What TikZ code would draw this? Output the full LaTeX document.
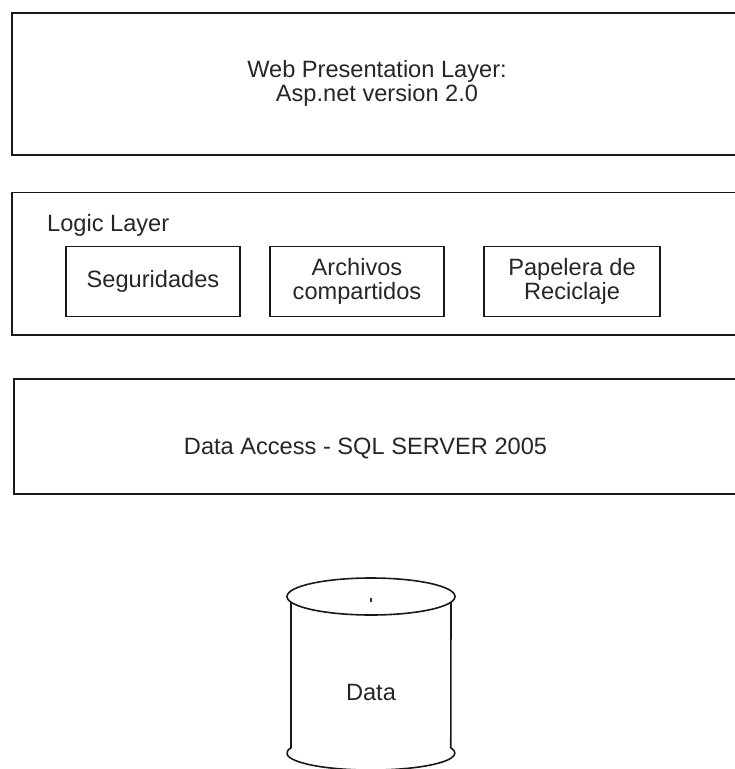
\documentclass[tikz,border=0pt]{standalone}
\usepackage{fontspec}
\setmainfont{Liberation Sans}
\usetikzlibrary{positioning}

\begin{document}
\begin{tikzpicture}[x=1bp,y=1bp]
        \tikzstyle{every node}+=[inner sep=0pt, text=black!85, font=\fontsize{23.7}{24}\selectfont]
        \tikzstyle{layer}=[draw=black!90, line width=1.8bp]
        \tikzstyle{part}=[draw=black!90, line width=1.4bp, minimum width=174bp, minimum height=70bp, align=center]
        \tikzstyle{db}=[draw=black!90, line width=1.6bp]
        \clip (0,0) rectangle (735,-769);
        % layers
        \draw [layer] (12.3,-12.8) rectangle (760,-155.3);
        \node [align=center] (web) at (377,-83.5) {Web Presentation Layer:\\Asp.net version 2.0};
        \draw [layer] (12.3,-192.5) rectangle (760,-335);
        \node [anchor=base west] (logic) at (47,-231.7) {Logic Layer};
        \node [part] (seg) at (153,-281.5) {Seguridades};
        \node [part] (arch) at (357,-281.5) {Archivos\\compartidos};
        \node [part, minimum width=176bp] (pap) at (572,-281.5) {Papelera de\\Reciclaje};
        \draw [layer] (14,-378.7) rectangle (760,-494);
        \node [anchor=base] (access) at (365.5,-454.3) {Data Access - SQL SERVER 2005};
        % database
        \draw [db] (371,-596.5) ellipse [x radius=84, y radius=18.5];
        \fill [black!80] (370.4,-598) rectangle (371.6,-601.5);
        \draw [db] (291,-602.1) -- (291,-747.8) arc [start angle=162, end angle=378, x radius=84, y radius=17] -- (451,-602.1);
        \node [anchor=base] (data) at (371,-700) {Data};
\end{tikzpicture}
\end{document}
